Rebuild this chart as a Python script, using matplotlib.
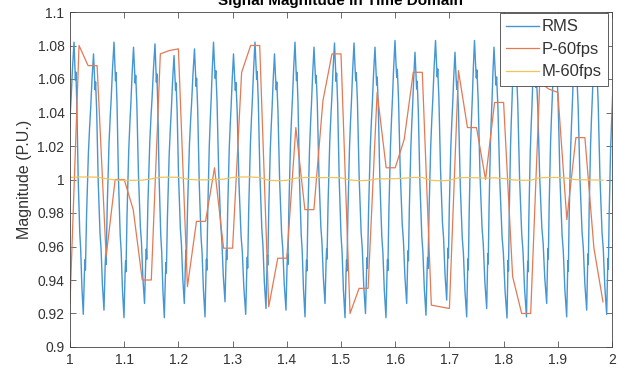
import numpy as np
import matplotlib
matplotlib.use("Agg")
import matplotlib.pyplot as plt

plt.rcParams['font.family'] = ['Liberation Sans', 'DejaVu Sans']

# ---- RMS magnitude: turning points (trough / peak) of the waveform ----
rms_trough_t = [0.9880, 1.0245, 1.0627, 1.0996, 1.1375, 1.1740, 1.2109, 1.2491,
                1.2860, 1.3242, 1.3616, 1.3985, 1.4336, 1.4705, 1.5074, 1.5452,
                1.5830, 1.6212, 1.6568, 1.6950, 1.7319, 1.7688, 1.8063, 1.8422,
                1.8795, 1.9164, 1.9533, 1.9902]
rms_trough_v = [0.920, 0.9195, 0.922, 0.9175, 0.926, 0.9175, 0.926, 0.918,
                0.927, 0.9195, 0.923, 0.922, 0.918, 0.926, 0.9175, 0.920,
                0.9175, 0.926, 0.919, 0.928, 0.918, 0.923, 0.9173, 0.918,
                0.926, 0.918, 0.922, 0.9195]
rms_peak_t = [1.0074, 1.0434, 1.0812, 1.1172, 1.1568, 1.1919, 1.2297, 1.2648,
              1.3017, 1.3413, 1.3773, 1.4151, 1.4502, 1.4880, 1.5240, 1.5627,
              1.5996, 1.6365, 1.6744, 1.7103, 1.7463, 1.7823, 1.8192, 1.8561,
              1.8939, 1.9308, 1.9677, 2.0046]
rms_peak_v = [1.082, 1.075, 1.082, 1.079, 1.081, 1.074, 1.078, 1.082,
              1.075, 1.082, 1.075, 1.082, 1.079, 1.0815, 1.0815, 1.079,
              1.083, 1.076, 1.083, 1.076, 1.083, 1.079, 1.082, 1.076,
              1.082, 1.078, 1.082, 1.078]

# edge profiles (time fraction, amplitude fraction) with the small notches
rise_shape = [(0.00, 0.00), (0.12, 0.17), (0.17, 0.21), (0.21, 0.17), (0.32, 0.38),
              (0.50, 0.62), (0.62, 0.72), (0.72, 0.79), (0.85, 0.90), (1.00, 1.00)]
fall_shape = [(0.00, 0.00), (0.10, 0.10), (0.15, 0.14), (0.20, 0.11), (0.30, 0.22),
              (0.45, 0.50), (0.62, 0.70), (0.72, 0.76), (0.85, 0.90), (1.00, 1.00)]

# ---- P-60fps and M-60fps estimates (one sample per frame) ----
frame_t = [1 + k / 60 for k in range(60)]
p60 = [0.926, 1.080, 1.068, 1.068, 0.954, 1.000, 1.000, 0.982, 0.940, 0.940,
       1.075, 1.077, 1.078, 0.936, 0.975, 0.975, 1.007, 0.959, 0.959, 1.064,
       1.080, 1.080, 0.924, 0.953, 0.953, 1.031, 0.982, 0.982, 1.047, 1.075,
       1.075, 0.920, 0.935, 0.935, 1.052, 1.007, 1.007, 1.024, 1.064, 1.064,
       0.925, 0.924, 0.923, 1.065, 1.031, 1.031, 1.000, 1.046, 1.046, 0.942,
       0.920, 0.920, 1.058, 1.054, 1.052, 0.976, 1.025, 1.025, 0.959, 0.927]
m60 = [1.0012, 1.0015, 1.0015, 1.0014, 1.0005, 0.9997, 0.9995, 0.9995, 0.9996, 1.0004,
       1.0013, 1.0014, 1.0013, 1.0002, 0.9998, 0.9998, 1.0000, 1.0002, 1.0012, 1.0015,
       1.0015, 1.0012, 0.9995, 0.9993, 0.9995, 1.0008, 1.0012, 1.0012, 1.0011, 1.0012,
       1.0010, 0.9997, 0.9993, 0.9995, 1.0004, 1.0004, 1.0005, 1.0008, 1.0012, 1.0012,
       0.9995, 0.9992, 0.9995, 1.0010, 1.0012, 1.0010, 1.0008, 1.0010, 1.0006, 0.9998,
       0.9995, 0.9996, 1.0010, 1.0012, 1.0012, 1.0008, 0.9999, 0.9998, 0.9997, 0.9996]

x_ticks = [1, 1.1, 1.2, 1.3, 1.4, 1.5, 1.6, 1.7, 1.8, 1.9, 2]
x_tick_labels = ['1', '1.1', '1.2', '1.3', '1.4', '1.5', '1.6', '1.7', '1.8', '1.9', '2']
y_ticks = [0.9, 0.92, 0.94, 0.96, 0.98, 1.0, 1.02, 1.04, 1.06, 1.08, 1.1]
y_tick_labels = ['0.9', '0.92', '0.94', '0.96', '0.98', '1', '1.02', '1.04', '1.06', '1.08', '1.1']


def edge(t0, v0, t1, v1, shape):
    ts = [t0 + f * (t1 - t0) for f, _ in shape]
    vs = [v0 + a * (v1 - v0) for _, a in shape]
    return ts, vs


rms_t, rms_v = [], []
for i in range(len(rms_trough_t)):
    ts, vs = edge(rms_trough_t[i], rms_trough_v[i], rms_peak_t[i], rms_peak_v[i], rise_shape)
    rms_t += ts if not rms_t else ts[1:]
    rms_v += vs if len(rms_v) == 0 else vs[1:]
    if i + 1 < len(rms_trough_t):
        ts, vs = edge(rms_peak_t[i], rms_peak_v[i], rms_trough_t[i + 1], rms_trough_v[i + 1], fall_shape)
        rms_t += ts[1:]
        rms_v += vs[1:]

fig = plt.figure(figsize=(6.19, 3.70), dpi=100)
ax = fig.add_axes([70 / 619, 1 - 347 / 370, 542 / 619, 335 / 370])

c_blue = '#4596d2'
c_orange = '#e27a55'
c_yellow = '#efc45a'
ax.plot(rms_t, rms_v, color=c_blue, lw=1.0, label='RMS')
ax.plot(frame_t, p60, color=c_orange, lw=0.9, label='P-60fps')
ax.plot(frame_t, m60, color=c_yellow, lw=0.9, label='M-60fps')

ax.set_xlim(1, 2)
ax.set_ylim(0.9, 1.1)
ax.set_xticks(x_ticks)
ax.set_xticklabels(x_tick_labels)
ax.set_yticks(y_ticks)
ax.set_yticklabels(y_tick_labels)

dark = '#333333'
ax.tick_params(direction='in', top=True, right=True, length=4, width=0.5,
               colors=dark, labelsize=10, pad=4)
for s in ax.spines.values():
    s.set_color('#444444')
    s.set_linewidth(0.6)

ax.set_ylabel('Magnitude (P.U.)', fontsize=11.5, color=dark, labelpad=4)
fig.text((70 + 612) / 2 / 619, 1 - 5 / 370, 'Signal Magnitude in Time Domain',
         ha='center', va='baseline', fontsize=11, fontweight='bold', color='black')

leg = ax.legend(loc='upper right', bbox_to_anchor=(1 - 4 / 542, 1 - 1 / 335),
                borderaxespad=0, fontsize=12, frameon=True, fancybox=False,
                handlelength=2.0, handletextpad=0.15, labelspacing=0.45,
                borderpad=0.38)
leg.get_frame().set_edgecolor('#444444')
leg.get_frame().set_linewidth(0.6)
leg.get_frame().set_alpha(1)
for txt in leg.get_texts():
    txt.set_color(dark)

fig.savefig('out.png', dpi=100)
